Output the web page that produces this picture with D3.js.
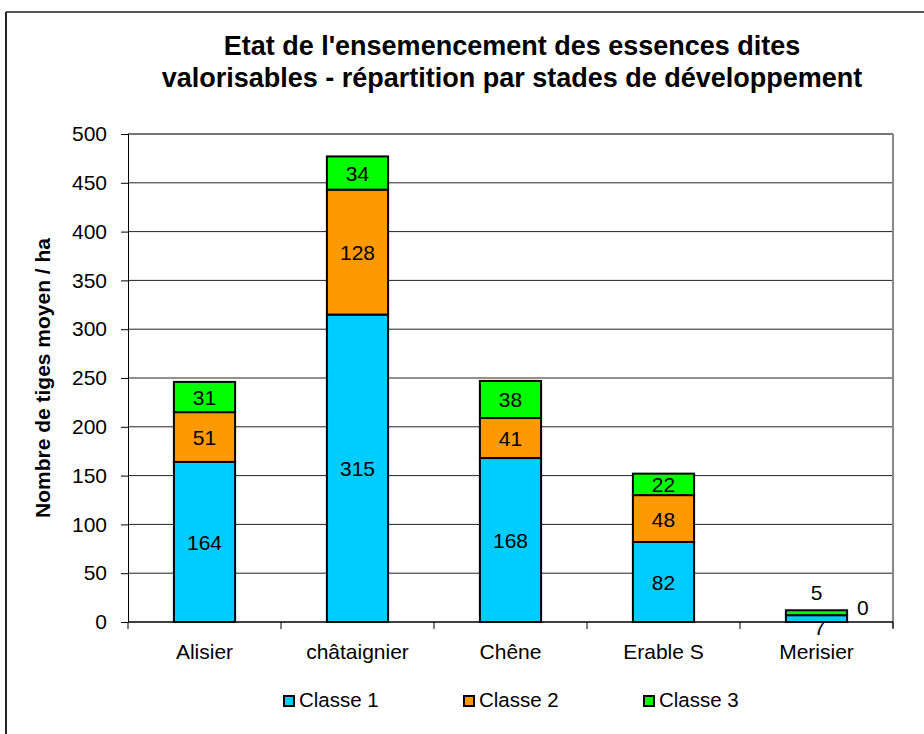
<!DOCTYPE html>
<html>
<head>
<meta charset="utf-8">
<script src="https://cdn.jsdelivr.net/npm/d3@7"></script>
<style>
  body { margin: 0; background: #fff; }
  text { font-family: "Liberation Sans", Arial, sans-serif; fill: #000; }
</style>
</head>
<body>
<div id="chart"></div>
<script>
// data
var categories = ["Alisier", "châtaignier", "Chêne", "Erable S", "Merisier"];
var seriesNames = ["Classe 1", "Classe 2", "Classe 3"];
var classe1 = [164, 315, 168, 82, 7];
var classe2 = [51, 128, 41, 48, 0];
var classe3 = [31, 34, 38, 22, 5];
var yTicks = [0, 50, 100, 150, 200, 250, 300, 350, 400, 450, 500];
var colors = ["#00CCFF", "#FF9900", "#00FF00"];

var svgWidth = 924;
var svgHeight = 734;

var margin = { top: 134, right: 31, bottom: 112, left: 128 };
var width = svgWidth - margin.left - margin.right;
var height = svgHeight - margin.top - margin.bottom;

var svg = d3.select("#chart")
  .append("svg")
  .attr("width", svgWidth)
  .attr("height", svgHeight);

// outer frame (top + left visible)
svg.append("line").attr("x1", 6).attr("x2", svgWidth).attr("y1", 12).attr("y2", 12)
  .attr("stroke", "#555").attr("stroke-width", 2);
svg.append("line").attr("x1", 6).attr("x2", 6).attr("y1", 12).attr("y2", svgHeight)
  .attr("stroke", "#222").attr("stroke-width", 2);

// title
var title = svg.append("text")
  .attr("text-anchor", "middle")
  .attr("font-size", 27)
  .attr("font-weight", "bold");
title.append("tspan").attr("x", 512).attr("y", 55).text("Etat de l'ensemencement des essences dites");
title.append("tspan").attr("x", 512).attr("y", 87).text("valorisables - répartition par stades de développement");

var chartGroup = svg.append("g")
  .attr("transform", `translate(${margin.left}, ${margin.top})`);

var table = categories.map(function(c, i) {
  return { cat: c, "Classe 1": classe1[i], "Classe 2": classe2[i], "Classe 3": classe3[i] };
});
var stacked = d3.stack().keys(seriesNames)(table);

var xScale = d3.scaleBand()
  .domain(categories)
  .range([0, width])
  .paddingInner(0.6)
  .paddingOuter(0.3);

var yScale = d3.scaleLinear()
  .domain([0, 500])
  .range([height, 0]);

// gridlines
chartGroup.selectAll(".grid")
  .data(yTicks.filter(d => d > 0))
  .enter()
  .append("line")
  .attr("x1", 0)
  .attr("x2", width)
  .attr("y1", d => yScale(d))
  .attr("y2", d => yScale(d))
  .attr("stroke", (d) => d === 500 ? "#777" : "#222")
  .attr("stroke-width", (d) => d === 500 ? 2 : 1);

// right plot border
chartGroup.append("line")
  .attr("x1", width).attr("x2", width)
  .attr("y1", 0).attr("y2", height + 6)
  .attr("stroke", "#888").attr("stroke-width", 2);

// y axis
var leftAxis = d3.axisLeft(yScale).tickValues(yTicks).tickSize(7).tickPadding(14);
var yAxisG = chartGroup.append("g").call(leftAxis);
yAxisG.select(".domain").attr("stroke", "#000");
yAxisG.selectAll(".tick line").attr("stroke", "#000");
yAxisG.selectAll("text").attr("font-size", 21).attr("font-family", "Liberation Sans, Arial, sans-serif");

// x axis: ticks between categories
var step = xScale.step();
var xAxisG = chartGroup.append("g").attr("transform", `translate(0, ${height})`);
xAxisG.append("line").attr("x1", 0).attr("x2", width).attr("y1", 0).attr("y2", 0)
  .attr("stroke", "#000").attr("stroke-width", 1.5);
xAxisG.selectAll(".sep")
  .data(d3.range(categories.length + 1))
  .enter()
  .append("line")
  .attr("x1", d => d * step).attr("x2", d => d * step)
  .attr("y1", 0).attr("y2", 7)
  .attr("stroke", "#000");
xAxisG.selectAll(".cat")
  .data(categories)
  .enter()
  .append("text")
  .attr("x", d => xScale(d) + xScale.bandwidth() / 2)
  .attr("y", 37)
  .attr("text-anchor", "middle")
  .attr("font-size", 21)
  .text(d => d);

// bars
var layers = chartGroup.selectAll(".layer")
  .data(stacked)
  .enter()
  .append("g")
  .attr("fill", (d, i) => colors[i]);

layers.selectAll("rect")
  .data(d => d.map(p => ({ p: p, key: d.key })))
  .enter()
  .append("rect")
  .attr("x", d => xScale(d.p.data.cat))
  .attr("width", xScale.bandwidth())
  .attr("y", d => yScale(d.p[1]))
  .attr("height", d => yScale(d.p[0]) - yScale(d.p[1]))
  .attr("stroke", "#000")
  .attr("stroke-width", 2);

// value labels
stacked.forEach(function(layer, si) {
  layer.forEach(function(p) {
    var cx = xScale(p.data.cat) + xScale.bandwidth() / 2;
    var y0 = yScale(p[0]), y1 = yScale(p[1]);
    var x = cx, y = (y0 + y1) / 2 + 8, anchor = "middle";
    if (y0 - y1 < 16) {
      // small segment: move label out of the bar
      if (si === 0) { y = y0 + 13; x = cx + 3; }
      else if (si === 1) { x = cx + xScale.bandwidth() / 2 + 10; anchor = "start"; y = y1; }
      else { y = y1 - 10; }
    }
    chartGroup.append("text")
      .attr("x", x)
      .attr("y", y)
      .attr("text-anchor", anchor)
      .attr("font-size", 21)
      .text(p.data[layer.key]);
  });
});

// y axis label
svg.append("text")
  .attr("transform", `translate(50, ${margin.top + height / 2}) rotate(-90)`)
  .attr("text-anchor", "middle")
  .attr("font-size", 21)
  .attr("font-weight", "bold")
  .text("Nombre de tiges moyen / ha");

// legend
var legend = svg.selectAll(".legend")
  .data(seriesNames)
  .enter()
  .append("g")
  .attr("transform", (d, i) => `translate(${284 + i * 180}, 696)`);
legend.append("rect")
  .attr("width", 10).attr("height", 10)
  .attr("fill", (d, i) => colors[i])
  .attr("stroke", "#000").attr("stroke-width", 2);
legend.append("text")
  .attr("x", 15).attr("y", 11)
  .attr("font-size", 20.5)
  .text(d => d);
</script>
</body>
</html>
